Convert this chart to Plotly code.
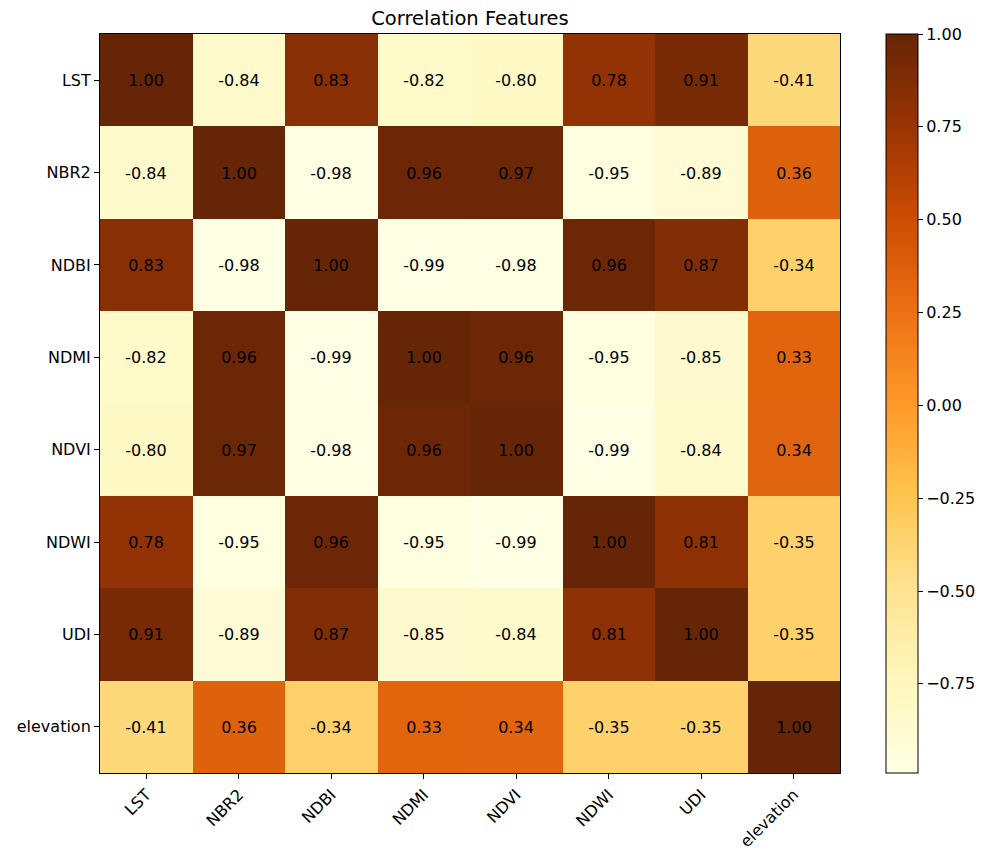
import plotly.graph_objects as go

labels = ["LST", "NBR2", "NDBI", "NDMI", "NDVI", "NDWI", "UDI", "elevation"]
row_LST = [1.00, -0.84, 0.83, -0.82, -0.80, 0.78, 0.91, -0.41]
row_NBR2 = [-0.84, 1.00, -0.98, 0.96, 0.97, -0.95, -0.89, 0.36]
row_NDBI = [0.83, -0.98, 1.00, -0.99, -0.98, 0.96, 0.87, -0.34]
row_NDMI = [-0.82, 0.96, -0.99, 1.00, 0.96, -0.95, -0.85, 0.33]
row_NDVI = [-0.80, 0.97, -0.98, 0.96, 1.00, -0.99, -0.84, 0.34]
row_NDWI = [0.78, -0.95, 0.96, -0.95, -0.99, 1.00, 0.81, -0.35]
row_UDI = [0.91, -0.89, 0.87, -0.85, -0.84, 0.81, 1.00, -0.35]
row_elev = [-0.41, 0.36, -0.34, 0.33, 0.34, -0.35, -0.35, 1.00]
z = [row_LST, row_NBR2, row_NDBI, row_NDMI, row_NDVI, row_NDWI, row_UDI, row_elev]
text = [[f"{v:.2f}" for v in row] for row in z]
cbar_ticks = [1.0, 0.75, 0.5, 0.25, 0.0, -0.25, -0.5, -0.75]

ylorbr = ['#ffffe5', '#fff7bc', '#fee391', '#fec44f', '#fe9929',
          '#ec7014', '#cc4c02', '#993404', '#662506']
cs = [[i / 8, c] for i, c in enumerate(ylorbr)]

font = "DejaVu Sans"
fs = 16
fig = go.Figure(go.Heatmap(
    z=z, x=labels, y=labels, text=text, texttemplate="%{text}",
    textfont=dict(color="black", size=fs, family=font),
    colorscale=cs, zmin=-0.99, zmax=1.0, xgap=0, ygap=0,
    colorbar=dict(
        x=1 + 46 / 740, xanchor="left", xpad=0, ypad=0,
        y=0.5, yanchor="middle", len=1, lenmode="fraction",
        thickness=32, outlinewidth=1, outlinecolor="black",
        tickvals=cbar_ticks, ticktext=[f"{t:.2f}".replace("-", "\u2212") for t in cbar_ticks],
        ticks="outside", ticklen=5, tickcolor="black",
        tickfont=dict(family=font, size=fs, color="black"),
    ),
))

# page body has an 8px margin, so the figure is placed at (8, 8)
fig.update_layout(
    width=981, height=842,
    margin=dict(l=92, r=149, t=26, b=77, autoexpand=False),
    paper_bgcolor="white", plot_bgcolor="white",
    title=dict(text="Correlation Features", x=(470 - 8) / 981, xanchor="center",
               y=1 - 10 / 842, yanchor="middle",
               font=dict(family=font, size=19.5, color="black")),
    font=dict(family=font, color="black"),
)
fig.update_xaxes(tickangle=-45, ticks="outside", ticklen=5, tickcolor="black",
                 showline=True, linecolor="black", linewidth=1, mirror=True, automargin=False,
                 showgrid=False, tickfont=dict(size=fs, family=font, color="black"))
fig.update_yaxes(autorange="reversed", ticks="outside", ticklen=5, tickcolor="black",
                 showline=True, linecolor="black", linewidth=1, mirror=True, automargin=False,
                 showgrid=False, tickfont=dict(size=fs, family=font, color="black"))

fig.write_html("out.html")
